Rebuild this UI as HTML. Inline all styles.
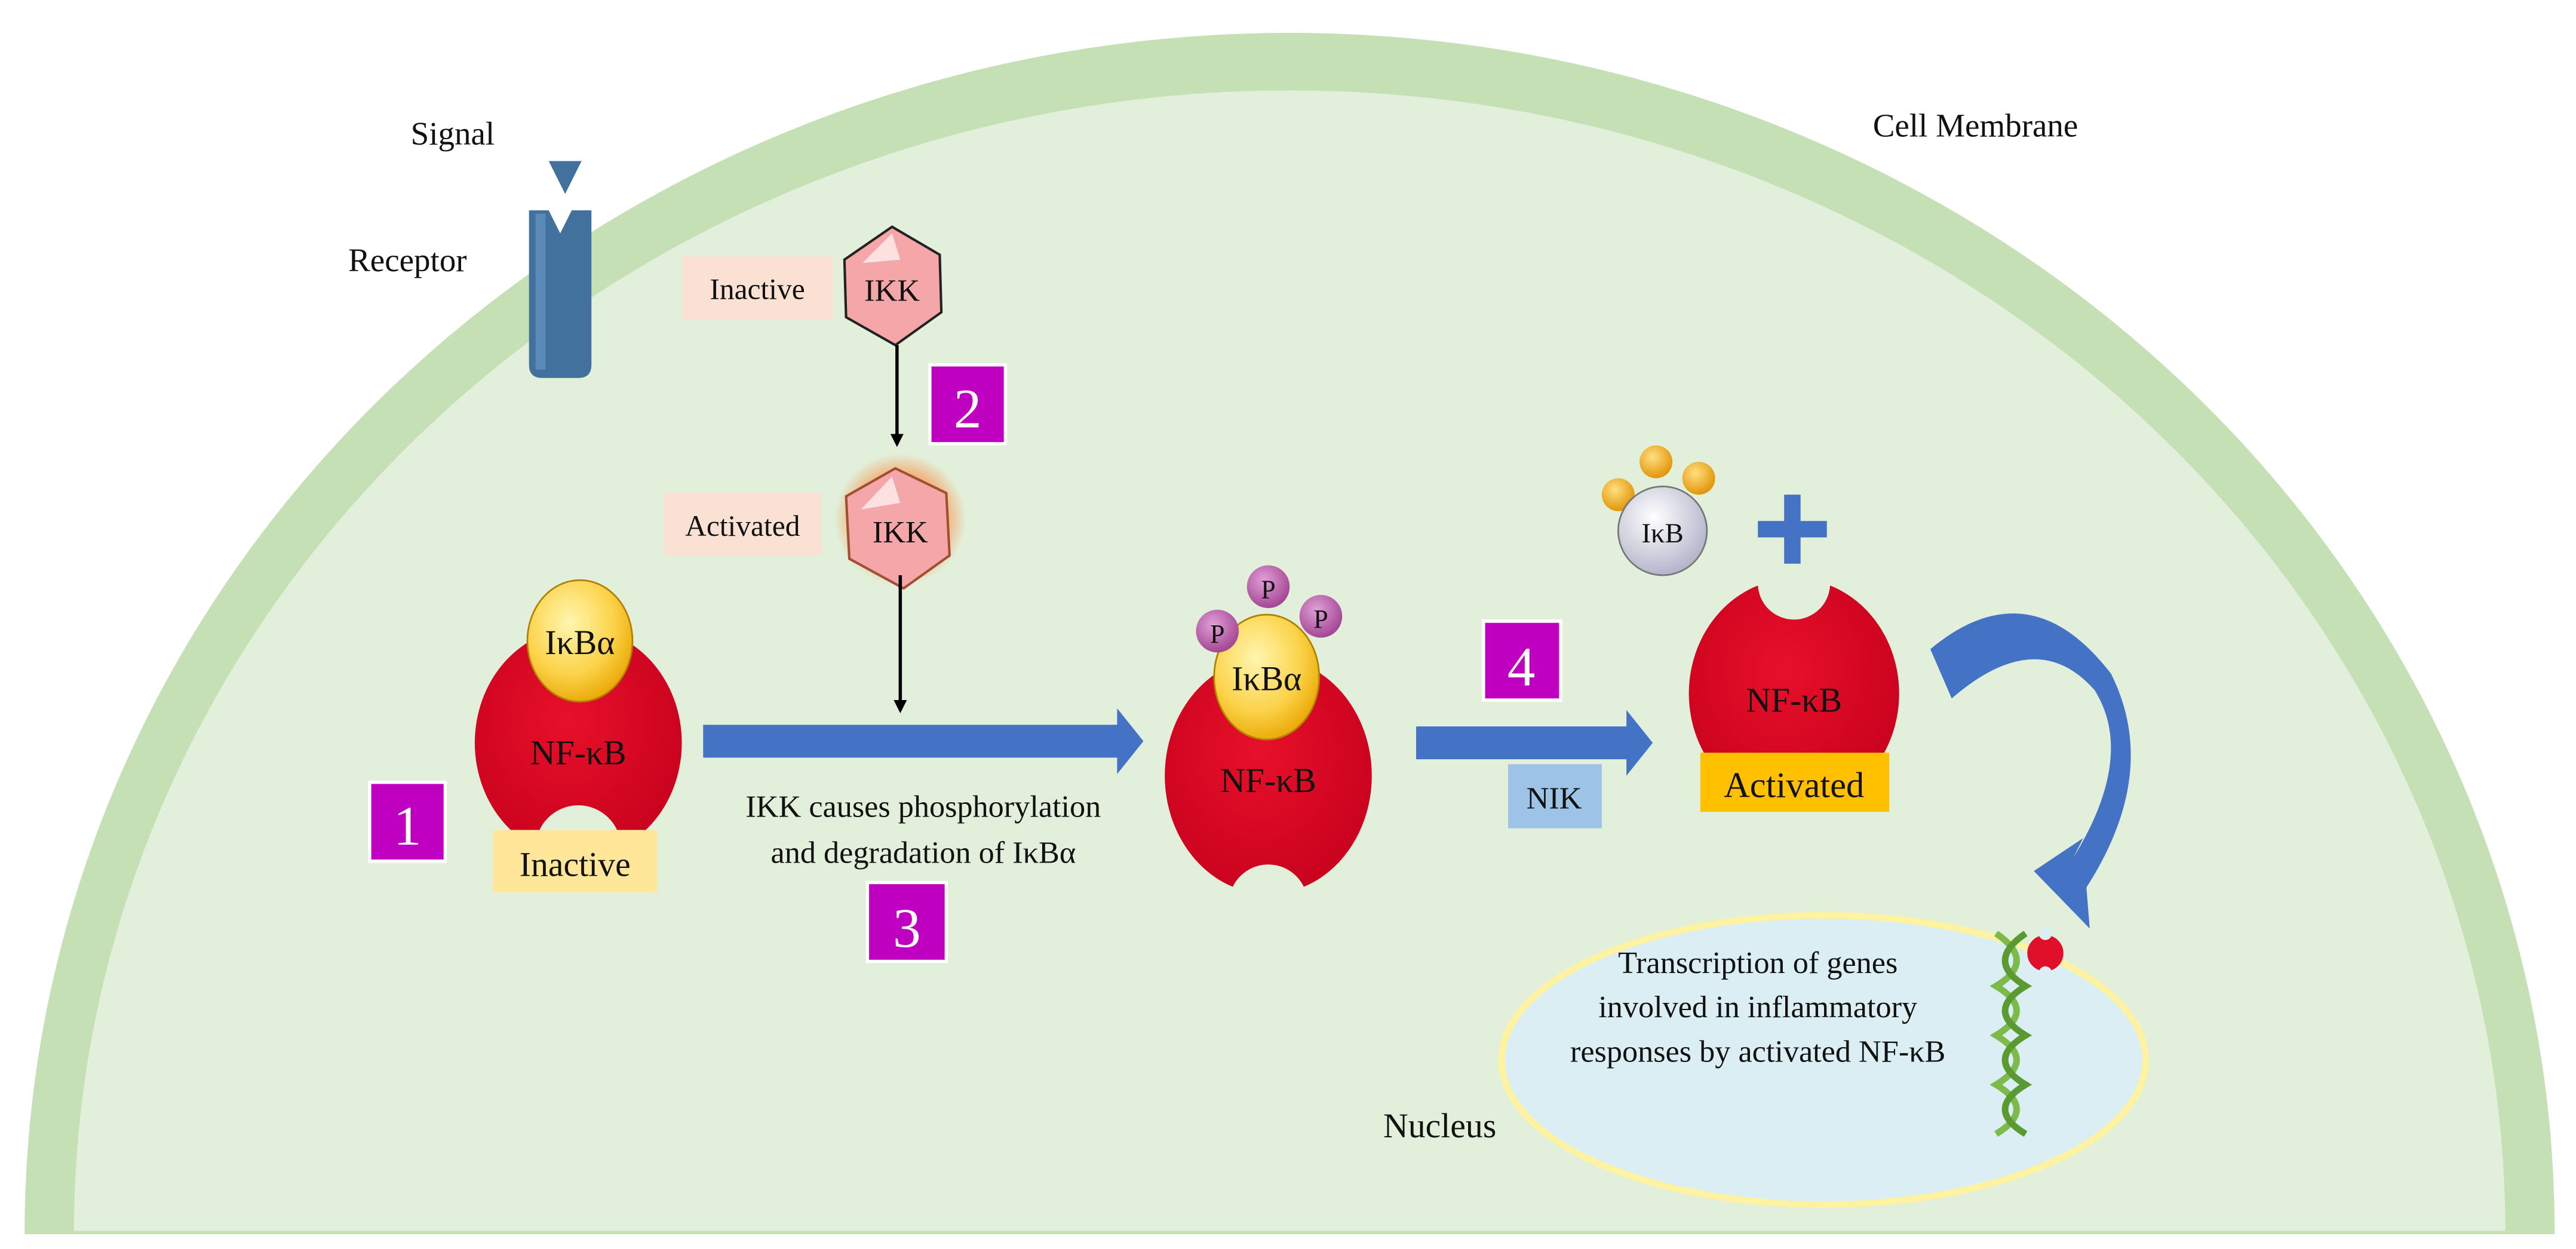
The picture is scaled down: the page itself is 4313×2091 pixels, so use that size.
<!DOCTYPE html>
<html><head><meta charset="utf-8"><style>
html,body{margin:0;padding:0;background:#fff;}
svg{display:block;font-family:"Liberation Serif","Times New Roman",serif;}
svg text{font-family:"Liberation Serif","Times New Roman",serif;fill:#111;}
</style></head><body>
<svg width="4313" height="2091" viewBox="0 0 1568 760" preserveAspectRatio="none" xmlns="http://www.w3.org/2000/svg" font-family="Liberation Serif, serif">
<defs>
<radialGradient id="yel" cx="40%" cy="35%" r="70%"><stop offset="0" stop-color="#fff6b0"/><stop offset="0.6" stop-color="#fcd34a"/><stop offset="1" stop-color="#e8a500"/></radialGradient>
<radialGradient id="red" cx="45%" cy="40%" r="70%"><stop offset="0" stop-color="#e8102a"/><stop offset="1" stop-color="#c4001c"/></radialGradient>
<radialGradient id="pur" cx="40%" cy="35%" r="70%"><stop offset="0" stop-color="#e0a0d8"/><stop offset="1" stop-color="#a0408f"/></radialGradient>
<radialGradient id="gry" cx="40%" cy="35%" r="70%"><stop offset="0" stop-color="#ffffff"/><stop offset="1" stop-color="#b0b0c8"/></radialGradient>
<radialGradient id="org" cx="40%" cy="35%" r="70%"><stop offset="0" stop-color="#ffe080"/><stop offset="1" stop-color="#e09000"/></radialGradient>
<radialGradient id="glow" cx="50%" cy="50%" r="50%"><stop offset="0.6" stop-color="#f5a060"/><stop offset="1" stop-color="#f5a060" stop-opacity="0"/></radialGradient>
<marker id="ah" markerWidth="8" markerHeight="8" refX="6" refY="4" orient="auto" markerUnits="userSpaceOnUse"><path d="M0,0 L8,4 L0,8 z" fill="#000"/></marker>
</defs>
<rect width="1568" height="760" fill="#fff"/>
<path d="M15,750 A770,730 0 0 1 1555,750 Z" fill="#c5e0b4"/>
<path d="M45,750 A740,695 0 0 1 1525,750 Z" fill="#e2efda"/>
<line x1="15" y1="750" x2="1555" y2="750" stroke="#c5e0b4" stroke-width="2"/>

<text x="250" y="88" font-size="20">Signal</text>
<text x="212" y="165" font-size="20">Receptor</text>
<text x="1140" y="83" font-size="20">Cell Membrane</text>

<!-- receptor -->
<path d="M322,128 L322,222 Q322,230 330,230 L352,230 Q360,230 360,222 L360,128 L348,128 L341,142 L334,128 Z" fill="#41719c"/>
<rect x="326" y="130" width="6" height="95" fill="#5b8ab8"/>
<path d="M334,98 L354,98 L344,118 Z" fill="#41719c"/>

<!-- IKK inactive -->
<rect x="415" y="156" width="92" height="38" fill="#fbe1d3"/>
<text x="461" y="182" font-size="18" text-anchor="middle">Inactive</text>
<polygon points="543,138 572,155 573,190 545,210 515,193 514,158" fill="#f4a6a8" stroke="#222" stroke-width="1.5"/>
<polygon points="543,142 525,160 548,158" fill="#fde0e0"/>
<text x="543" y="183" font-size="19" text-anchor="middle">IKK</text>
<line x1="546" y1="210" x2="546" y2="270" stroke="#000" stroke-width="2" marker-end="url(#ah)"/>
<rect x="566" y="222" width="46" height="48" fill="#c000c0" stroke="#fff" stroke-width="2"/>
<text x="589" y="260" font-size="34" text-anchor="middle" style="fill:#fff">2</text>

<!-- IKK activated -->
<rect x="404" y="300" width="96" height="38" fill="#fbe1d3"/>
<text x="452" y="326" font-size="18" text-anchor="middle">Activated</text>
<circle cx="548" cy="316" r="40" fill="url(#glow)"/>
<polygon points="545,285 576,300 578,338 550,358 517,340 515,302" fill="#f4a6a8" stroke="#a05030" stroke-width="1.5"/>
<polygon points="543,290 524,310 548,306" fill="#fde0e0"/>
<text x="548" y="330" font-size="19" text-anchor="middle">IKK</text>
<line x1="548" y1="350" x2="548" y2="432" stroke="#000" stroke-width="2" marker-end="url(#ah)"/>

<!-- NF-kB 1 -->
<ellipse cx="352" cy="452" rx="63" ry="70" fill="url(#red)"/>
<circle cx="352" cy="516" r="26" fill="#e2efda"/>
<ellipse cx="353" cy="390" rx="32" ry="37" fill="url(#yel)" stroke="#b08000" stroke-width="1"/>
<text x="353" y="398" font-size="21" text-anchor="middle">IκBα</text>
<text x="352" y="465" font-size="21" text-anchor="middle">NF-κB</text>
<rect x="300" y="505" width="100" height="38" fill="#ffe699"/>
<text x="350" y="533" font-size="21" text-anchor="middle">Inactive</text>
<rect x="225" y="476" width="46" height="48" fill="#c000c0" stroke="#fff" stroke-width="2"/>
<text x="248" y="514" font-size="34" text-anchor="middle" style="fill:#fff">1</text>

<!-- big arrow -->
<path d="M428,441 L680,441 L680,431 L696,451 L680,471 L680,461 L428,461 Z" fill="#4472c4"/>
<text x="562" y="497" font-size="19" text-anchor="middle">IKK causes phosphorylation</text>
<text x="562" y="525" font-size="19" text-anchor="middle">and degradation of IκBα</text>
<rect x="528" y="537" width="48" height="48" fill="#c000c0" stroke="#fff" stroke-width="2"/>
<text x="552" y="576" font-size="34" text-anchor="middle" style="fill:#fff">3</text>

<!-- NF-kB 2 -->
<ellipse cx="772" cy="472" rx="63" ry="72" fill="url(#red)"/>
<circle cx="772" cy="550" r="24" fill="#e2efda"/>
<ellipse cx="771" cy="412" rx="32" ry="38" fill="url(#yel)" stroke="#b08000" stroke-width="1"/>
<text x="771" y="420" font-size="21" text-anchor="middle">IκBα</text>
<circle cx="741" cy="384" r="13" fill="url(#pur)"/>
<text x="741" y="391" font-size="16" text-anchor="middle">P</text>
<circle cx="772" cy="357" r="13" fill="url(#pur)"/>
<text x="772" y="364" font-size="16" text-anchor="middle">P</text>
<circle cx="804" cy="375" r="13" fill="url(#pur)"/>
<text x="804" y="382" font-size="16" text-anchor="middle">P</text>
<text x="772" y="482" font-size="21" text-anchor="middle">NF-κB</text>

<!-- arrow 4 -->
<rect x="903" y="378" width="47" height="48" fill="#c000c0" stroke="#fff" stroke-width="2"/>
<text x="926" y="417" font-size="34" text-anchor="middle" style="fill:#fff">4</text>
<path d="M862,442 L990,442 L990,432 L1006,452 L990,472 L990,462 L862,462 Z" fill="#4472c4"/>
<rect x="918" y="465" width="57" height="39" fill="#9dc3e6"/>
<text x="946" y="492" font-size="19" text-anchor="middle">NIK</text>

<!-- IkB free -->
<circle cx="985" cy="301" r="10" fill="url(#org)"/>
<circle cx="1008" cy="281" r="10" fill="url(#org)"/>
<circle cx="1034" cy="291" r="10" fill="url(#org)"/>
<circle cx="1012" cy="323" r="27" fill="url(#gry)" stroke="#777" stroke-width="1"/>
<text x="1012" y="330" font-size="17" text-anchor="middle">IκB</text>

<!-- NF-kB 3 -->
<ellipse cx="1092" cy="422" rx="64" ry="70" fill="url(#red)"/>
<circle cx="1092" cy="355" r="22" fill="#e2efda"/>
<circle cx="1092" cy="492" r="22" fill="#e2efda"/>
<rect x="1035" y="458" width="115" height="36" fill="#ffc000"/>
<text x="1092" y="485" font-size="22" text-anchor="middle">Activated</text>
<text x="1092" y="433" font-size="21" text-anchor="middle">NF-κB</text>
<rect x="1086" y="301" width="10" height="42" fill="#4472c4"/>
<rect x="1070" y="317" width="42" height="10" fill="#4472c4"/>

<!-- curved arrow -->
<path d="M1175,395 Q1235,345 1285,410 Q1315,470 1270,540 L1272,565 L1238,530 L1268,510 L1262,522 Q1300,460 1275,420 Q1240,380 1188,425 Z" fill="#4472c4"/>

<!-- nucleus -->
<ellipse cx="1110" cy="645" rx="196" ry="88" fill="#daeef3" stroke="#fff2a0" stroke-width="4"/>
<text x="1070" y="592" font-size="19" text-anchor="middle">Transcription of genes</text>
<text x="1070" y="619" font-size="19" text-anchor="middle">involved in inflammatory</text>
<text x="1070" y="646" font-size="19" text-anchor="middle">responses by activated NF-κB</text>
<text x="842" y="692" font-size="21">Nucleus</text>
<path d="M1215,568 Q1240,585 1215,600 Q1240,615 1215,630 Q1240,645 1215,660 Q1240,675 1215,690" fill="none" stroke="#7cba4a" stroke-width="4"/>
<path d="M1233,568 Q1208,585 1233,600 Q1208,615 1233,630 Q1208,645 1233,660 Q1208,675 1233,690" fill="none" stroke="#5a9a30" stroke-width="4"/>
<circle cx="1245" cy="580" r="11" fill="#e0102a"/>
<circle cx="1245" cy="568" r="4" fill="#daeef3"/>
<circle cx="1245" cy="592" r="4" fill="#daeef3"/>
</svg>
</body></html>
